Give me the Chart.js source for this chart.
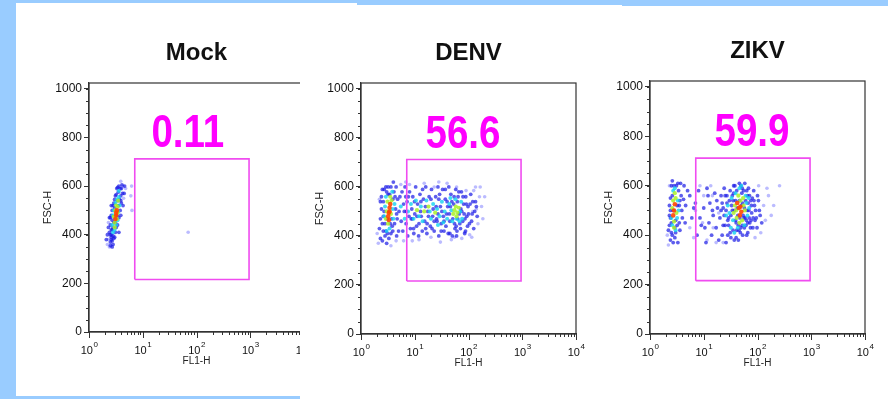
<!DOCTYPE html>
<html>
  <head>
    <title>Flow cytometry dot plots</title>
    <script src="https://cdn.jsdelivr.net/npm/chart.js"></script>
    <style>
      body { margin: 0; width: 888px; height: 399px; overflow: hidden; background: #fff; position: relative; }
      .strip { position: absolute; background: #99ccff; z-index: 5; }
      .box { position: absolute; }
      #mockClip { position: absolute; left: 0; top: 0; width: 300px; height: 399px; overflow: hidden; }
    </style>
  </head>
  <body>
    <div id="mockClip"><div class="box" id="box0"><canvas id="plot0"></canvas></div></div>
    <div class="box" id="box1"><canvas id="plot1"></canvas></div>
    <div class="box" id="box2"><canvas id="plot2"></canvas></div>

    <div class="strip" style="left:0;top:0;width:16px;height:399px"></div>
    <div class="strip" style="left:16px;top:0;width:341px;height:3px"></div>
    <div class="strip" style="left:357px;top:0;width:265px;height:5px"></div>
    <div class="strip" style="left:622px;top:0;width:266px;height:6px"></div>
    <div class="strip" style="left:16px;top:396px;width:284px;height:3px"></div>

    <script>
      // axes
      const xDecades = [1, 10, 100, 1000, 10000];
      const xMinorSteps = [2, 3, 4, 5, 6, 7, 8, 9];
      const yTicks = [0, 200, 400, 600, 800, 1000];

      // panels
      const titles = ['Mock', 'DENV', 'ZIKV'];
      const gatePct = ['0.11', '56.6', '59.9'];
      const pctX = [69, 79, 79];
      const pctY = [760, 760, 760];

      // gate (FL1-H, FSC-H)
      const gateX = [7.1, 950, 950, 7.1, 7.1];
      const gateY = [216, 216, 712, 712, 216];

      // events [FL1-H, FSC-H] by density level
      const mockPeak = [[3.2,480],[3.3,500],[3.1,465],[3.2,490]];
      const mockHigh = [[3.0,450],[3.2,520],[3.4,515],[2.9,475],[3.3,465],[3.1,500],[3.5,540],[3.0,430],[3.4,490]];
      const mockMid = [[2.8,410],[3.0,420],[3.3,545],[3.6,555],[2.7,440],[3.5,495],[3.4,460],[2.8,480],[3.2,440],[3.7,520],[3.1,530],[2.9,500],[3.6,580],[3.0,470]];
      const mockLow = [[2.5,370],[2.6,390],[2.7,375],[2.8,395],[2.6,420],[2.5,440],[2.7,500],[3.0,545],[3.2,565],[3.5,575],[3.8,590],[3.9,560],[4.0,530],[3.8,500],[3.6,470],[3.4,440],[3.1,410],[3.0,390],[2.8,360],[2.4,410],[2.5,470],[2.8,520],[3.4,595],[4.1,605],[3.9,540],[3.2,430],[2.7,350],[2.5,355],[2.6,380],[2.9,385],[2.7,460],[3.3,590],[4.2,570],[3.0,510],[2.6,480],
        [2.9,450],[3.1,560],[3.6,600],[2.6,400],[3.3,480],[3.7,545],[2.9,530],[3.4,540],[2.7,420],[3.1,450],[4.0,590],[3.5,520],[2.5,400],[2.8,430],[2.2,400],[2.3,430],[2.4,470],[2.6,520],[4.3,520],[4.5,570],[4.6,600],[3.9,480],[3.6,410],[2.1,380]];
      const mockFaint = [[2.3,380],[2.4,350],[4.3,600],[4.4,550],[3.9,620],[6.0,560],[6.3,500],[6.2,600],[70,410],[2.3,450],[2.2,360],[4.8,590]];

      const denvPeak = [[3.3,495],[3.4,515],[3.2,480],[3.5,530],[3.3,465],[3.4,500]];
      const denvHigh = [[3.0,500],[3.6,490],[3.1,540],[3.7,545],[3.2,450],[2.9,470],[3.5,560],[55,505],[62,495],[58,520],[66,515],[52,490],[15,500],[18,520],[24,495],[11,505],[60,480]];
      const denvMid = [[2.8,520],[2.7,480],[3.9,510],[4.0,470],[3.8,580],[2.9,560],[3.4,430],[4.2,530],[3.0,420],[7.5,500],[8.5,530],[9.5,470],[10.5,545],[12,480],[13,520],[14,460],[16.5,545],[20,470],[22,530],[26,510],[29,480],[32,540],[36,500],[40,470],[44,530],[48,505],[50,460],[57,550],[60,470],[70,500],[73,540],[76,470],[68,460],[46,555],[34,455],[19,500],[27,445],[6.5,470],[5.5,520]];
      const denvLow = [[2.2,430],[2.3,470],[2.3,390],[2.4,510],[2.5,450],[2.5,380],[2.6,540],[2.6,420],[2.7,590],[2.8,400],[2.8,450],[2.9,600],[3.0,370],[3.0,580],[3.1,410],[3.2,600],[3.3,390],[3.4,570],[3.6,410],[3.6,600],[3.8,440],[3.9,550],[4.1,580],[4.2,450],[4.4,510],[4.5,600],[4.7,470],[4.8,550],[5.0,420],[5.1,500],[2.4,560],[2.7,500],[3.5,450],[4.0,620],[4.6,400],
        [2.3,540],[2.5,590],[2.9,420],[3.1,470],[3.7,470],[3.9,420],[4.3,560],[4.6,490],[2.6,480],[3.2,570],
        [5.6,460],[5.8,580],[6.0,420],[6.2,530],[6.6,600],[6.9,450],[7.2,540],[7.4,400],[7.8,480],[8.0,580],[8.3,430],[8.8,510],[9.2,560],[9.6,410],[10,490],[10.4,600],[10.8,440],[11.3,530],[11.8,400],[12.5,570],[13.2,480],[13.8,420],[14.5,550],[15.3,460],[16,600],[16.8,410],[17.5,500],[18.5,560],[19.5,440],[20.5,590],[21.5,480],[23,420],[24.5,560],[25.5,470],[27,600],[28,400],[30,520],[31,450],[33,590],[35,420],[37,550],[39,490],[42,410],[43,600],[45,460],[47,570],[50,400],[53,530],[55,450],[58,590],[61,420],[64,560],[67,490],[71,430],[74,580],[78,460],[81,530],[85,410],[89,560],[93,480],[98,520],[104,450],[110,570],[117,490],[125,430],[135,540],[145,480],[9,470],[13,540],[17,450],[22,510],[28,550],[34,480],[38,440],[41,520],[49,540],[56,430],[63,470],[72,510],[83,490],[96,440],[12,450],[26,460],[7,500],
        [6.4,500],[7.6,560],[8.6,470],[9.9,540],[11,480],[12.8,500],[14,590],[15.8,520],[18,480],[20,550],[23,460],[25,520],[27,490],[29,570],[32,500],[35,460],[37,590],[40,540],[44,490],[46,520],[51,470],[54,560],[59,440],[62,540],[66,580],[69,450],[75,500],[79,560],[86,470],[91,530],[100,490],[107,530],[114,460],[130,500],[21,430],[31,420],[45,410],[60,400],[9.5,430],[16,430],[6.8,560],[5.3,560],[120,540],[140,520],[88,420]];
      const denvFaint = [[2.0,410],[2.1,370],[2.2,550],[3.6,360],[4.5,380],[5.5,610],[6.2,380],[6.8,620],[8,610],[9,380],[12,385],[15,615],[20,395],[23,600],[28,620],[30,375],[40,615],[48,385],[55,395],[60,600],[75,390],[85,415],[90,585],[105,405],[115,395],[125,585],[135,600],[150,450],[160,560],[175,520],[185,470],[200,560],[140,510],[120,500],[165,600]];

      const zikvPeak = [[2.8,500],[2.9,525],[2.7,480],[45,510],[50,495],[42,530],[47,480],[48,515]];
      const zikvHigh = [[2.6,510],[3.0,550],[2.8,455],[3.1,490],[2.7,540],[40,500],[48,540],[55,520],[38,520],[52,460],[58,500],[44,560],[36,490],[46,450],[54,550],[41,470],[2.9,570],[2.8,430]];
      const zikvMid = [[2.5,470],[3.2,470],[3.0,420],[2.7,580],[3.3,540],[2.9,590],[2.6,440],[3.4,500],[30,490],[33,550],[60,560],[65,480],[62,530],[43,430],[35,460],[70,510],[46,590],[28,520],[32,430],[39,570],[57,440],[68,550],[26,480],[50,600],[37,410]];
      const zikvLow = [[2.2,420],[2.3,480],[2.4,380],[2.4,550],[2.5,450],[2.5,600],[2.6,400],[2.7,370],[2.9,390],[3.1,600],[3.2,440],[3.4,580],[3.5,520],[3.6,420],[3.8,560],[4.0,470],[4.3,600],[4.6,520],[5.0,580],[3.3,370],[2.3,520],[3.7,610],[4.5,450],[2.6,620],[3.0,410],[3.9,500],[4.2,545],[2.4,500],
        [2.3,440],[2.5,410],[2.6,560],[2.8,600],[3.0,460],[3.2,520],[3.3,610],[3.5,450],[2.4,470],[2.9,430],[3.6,540],[2.7,500],
        [5.5,560],[6,470],[7,530],[7.5,400],[8,580],[9,440],[10,510],[11,370],[11.5,590],[12.5,450],[13,530],[14,400],[15,480],[16,570],[17,430],[18,510],[19,380],
        [6.5,510],[8.5,470],[10.5,430],[12,560],[14.5,500],[17.5,540],
        [20,470],[21,560],[22,400],[23,510],[24,590],[25,440],[26,370],[27,530],[29,470],[31,580],[32,390],[34,500],[36,600],[37,380],[39,540],[41,420],[43,480],[44,380],[46,610],[49,430],[51,570],[53,400],[56,470],[58,610],[61,440],[63,580],[66,410],[68,590],[72,450],[75,540],[78,490],[82,430],[88,520],[95,470],[100,560],[108,500],[120,450],[29,440],[33,520],[38,600],[53,530],[57,430],[67,530],[76,460],[85,580],[24,480],[27,560],[31,410],[35,540],[40,450],[48,410],[52,590],[59,470],[64,500],[70,470],[80,550],[90,460],[22,530],[45,420],
        [21,500],[23,440],[25,560],[26,500],[28,460],[30,540],[32,480],[34,560],[35,420],[37,500],[39,460],[41,580],[42,510],[44,440],[46,540],[47,470],[50,520],[52,440],[54,480],[55,580],[57,510],[60,540],[62,460],[65,560],[66,450],[69,500],[71,560],[74,430],[77,520],[83,470],[86,540],[92,500],[98,430],[104,540],[112,480],[40,390],[49,600],[36,570],[63,400],[28,400]];
      const zikvFaint = [[2.1,400],[2.2,360],[2.3,600],[5.5,430],[6.5,390],[8.5,600],[9.5,450],[11.5,380],[13.5,600],[15,430],[17,370],[19,490],[14.5,560],[130,520],[140,460],[160,560],[180,480],[257,600],[90,390],[105,600],[23,370],[200,520],[115,410],[150,590],[7,500],[10,560]];

      const panelEvents = [
        [mockPeak, mockHigh, mockMid, mockLow, mockFaint],
        [denvPeak, denvHigh, denvMid, denvLow, denvFaint],
        [zikvPeak, zikvHigh, zikvMid, zikvLow, zikvFaint],
      ];
      const levelColors = ['rgba(255,70,0,0.9)', 'rgba(170,240,40,0.85)', 'rgba(20,210,240,0.8)', 'rgba(25,25,230,0.7)', 'rgba(120,120,255,0.5)'];
      const levelRadius = [2.3, 2.1, 2, 1.9, 1.8];

      // where each plot area sits on the page
      const plotBox = [
        { left: 89.3, top: 83.3, bottom: 332.7 },
        { left: 361, top: 83.3, bottom: 334.3 },
        { left: 650, top: 81, bottom: 334.3 },
      ];
      const AXIS_W = 58, TOP_H = 80, BOTTOM_H = 50, PLOT_W = 215, RIGHT_PAD = 20;
      const FONT = '"Liberation Sans", Arial, sans-serif';

      // frame, minor ticks, log labels and the gate percentage
      const dotPlotExtras = {
        id: 'dotPlotExtras',
        afterDraw(chart, args, opts) {
          const { ctx, chartArea: a, scales: { x, y } } = chart;
          ctx.save();
          ctx.strokeStyle = '#333';
          ctx.lineWidth = 1.2;
          ctx.strokeRect(a.left, a.top, a.right - a.left, a.bottom - a.top);

          ctx.beginPath();
          for (let v = 50; v < 1024; v += 50) {
            const py = Math.round(y.getPixelForValue(v)) + 0.5;
            ctx.moveTo(a.left - 3, py);
            ctx.lineTo(a.left, py);
          }
          xDecades.forEach((d, i) => {
            const px = Math.round(x.getPixelForValue(d)) + 0.5;
            ctx.moveTo(px, a.bottom);
            ctx.lineTo(px, a.bottom + 6);
            if (i < xDecades.length - 1) {
              xMinorSteps.forEach(m => {
                const mx = Math.round(x.getPixelForValue(d * m)) + 0.5;
                ctx.moveTo(mx, a.bottom);
                ctx.lineTo(mx, a.bottom + 3);
              });
            }
          });
          ctx.lineWidth = 1;
          ctx.stroke();

          ctx.fillStyle = '#111';
          ctx.textBaseline = 'alphabetic';
          xDecades.forEach((d, i) => {
            const px = x.getPixelForValue(d);
            ctx.font = '11px ' + FONT;
            const w10 = ctx.measureText('10').width;
            ctx.font = '8px ' + FONT;
            const wExp = ctx.measureText(String(i)).width;
            const start = px - (w10 + wExp) / 2;
            ctx.font = '11px ' + FONT;
            ctx.textAlign = 'left';
            ctx.fillText('10', start, a.bottom + 22);
            ctx.font = '8px ' + FONT;
            ctx.fillText(String(i), start + w10 + 0.5, a.bottom + 15);
          });

          ctx.translate(x.getPixelForValue(opts.labelX), y.getPixelForValue(opts.labelY));
          ctx.scale(0.82, 1);
          ctx.font = 'bold 47px ' + FONT;
          ctx.fillStyle = '#ff00ff';
          ctx.textAlign = 'center';
          ctx.fillText(opts.text, 0, 0);
          ctx.restore();
        }
      };

      plotBox.forEach((b, i) => {
        const h = TOP_H + (b.bottom - b.top) + BOTTOM_H;
        const w = AXIS_W + PLOT_W + RIGHT_PAD;
        const box = document.getElementById('box' + i);
        box.style.left = (b.left - AXIS_W) + 'px';
        box.style.top = (b.top - TOP_H) + 'px';
        const canvas = document.getElementById('plot' + i);
        canvas.width = w;
        canvas.height = h;

        const datasets = [{
          data: gateX.map((gx, k) => ({ x: gx, y: gateY[k] })),
          showLine: true,
          borderColor: '#f04cf0',
          borderWidth: 1.6,
          pointRadius: 0,
          fill: false,
        }];
        panelEvents[i].forEach((pts, k) => {
          datasets.push({
            data: pts.map(p => ({ x: p[0], y: p[1] })),
            backgroundColor: levelColors[k],
            borderWidth: 0,
            pointRadius: levelRadius[k],
          });
        });

        new Chart(canvas, {
          type: 'scatter',
          data: { datasets },
          plugins: [dotPlotExtras],
          options: {
            responsive: false,
            animation: false,
            events: [],
            layout: { padding: { left: 0, right: RIGHT_PAD, top: 0, bottom: 0 } },
            plugins: {
              legend: { display: false },
              tooltip: { enabled: false },
              title: {
                display: true,
                text: titles[i],
                color: '#111',
                fullSize: false,
                font: { family: FONT, size: 24, weight: 'bold', lineHeight: 1.25 },
                padding: { top: 35, bottom: 15 },
              },
              dotPlotExtras: { text: gatePct[i], labelX: pctX[i], labelY: pctY[i] },
            },
            scales: {
              x: {
                type: 'logarithmic',
                min: 1,
                max: 10000,
                grid: { display: false },
                ticks: { display: false },
                border: { color: '#333', width: 1.2 },
                title: { display: true, text: 'FL1-H', color: '#222', font: { family: FONT, size: 10 }, padding: { top: 0, bottom: 15 } },
                afterFit: s => { s.height = BOTTOM_H; },
              },
              y: {
                min: 0,
                max: 1024,
                afterBuildTicks: s => { s.ticks = yTicks.map(v => ({ value: v })); },
                grid: { drawOnChartArea: false, tickLength: 5, color: '#333' },
                border: { color: '#333', width: 1.2 },
                ticks: { color: '#111', padding: 2, font: { family: FONT, size: 12 }, callback: v => String(v) },
                title: { display: true, text: 'FSC-H', color: '#222', font: { family: FONT, size: 11 }, padding: { top: 10, bottom: 0 } },
                afterFit: s => { s.width = AXIS_W; },
              },
            },
          },
        });
      });
    </script>
  </body>
</html>
